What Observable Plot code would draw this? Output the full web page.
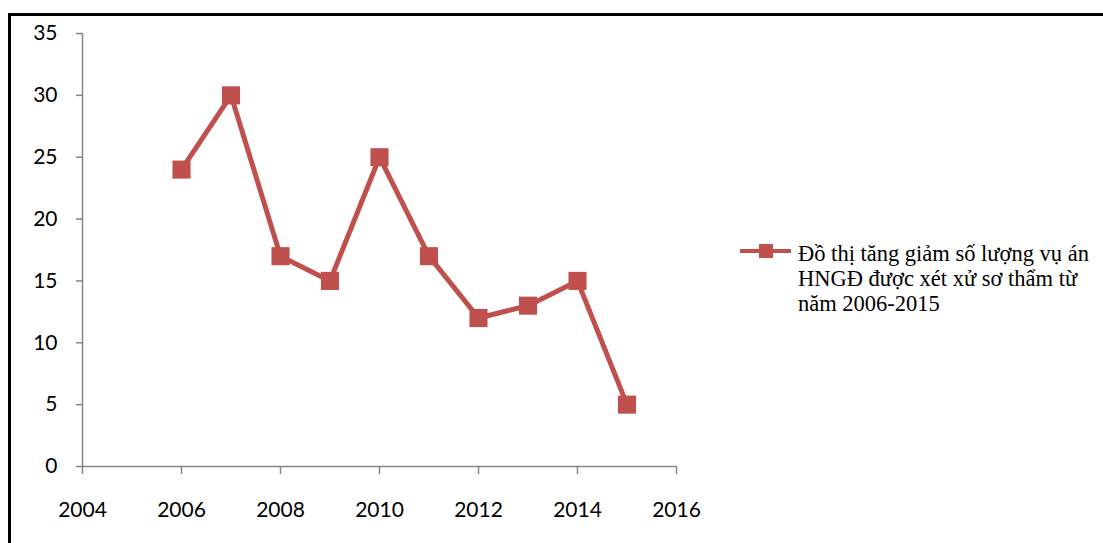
<!DOCTYPE html>
<html><head><meta charset="utf-8">
<script src="https://cdn.jsdelivr.net/npm/d3@7"></script>
<script src="https://cdn.jsdelivr.net/npm/@observablehq/plot@0.6"></script>
<style>
body{margin:0;background:#fff;}
#wrap{position:relative;width:1103px;height:543px;overflow:hidden;background:#fff;}
#wrap svg.plot{position:absolute;left:0;top:0;}
#frame{position:absolute;left:8px;top:13px;width:1200px;height:700px;border-left:3px solid #000;border-top:3px solid #000;box-sizing:border-box;}
#swatch{position:absolute;left:738px;top:240px;}
#legtext{position:absolute;left:798px;top:241px;font-family:"Liberation Serif","Times New Roman",serif;font-size:22.5px;line-height:25px;color:#000;white-space:nowrap;}
</style>
</head><body>
<div id="wrap">
  <div id="frame"></div>
</div>
<script>
const years = [2006, 2007, 2008, 2009, 2010, 2011, 2012, 2013, 2014, 2015];
const cases = [24, 30, 17, 15, 25, 17, 12, 13, 15, 5];
const xTicks = [2004, 2006, 2008, 2010, 2012, 2014, 2016];
const yTicks = [0, 5, 10, 15, 20, 25, 30, 35];
const legendLines = ["Đồ thị tăng giảm số lượng vụ án", "HNGĐ được xét xử sơ thẩm từ", "năm 2006-2015"];
const seriesColor = "#C0504D";

const data = years.map((y, i) => ({year: y, value: cases[i]}));

const chart = Plot.plot({
  width: 1103,
  height: 543,
  marginLeft: 82,
  marginRight: 427,
  marginTop: 33,
  marginBottom: 77,
  x: {domain: [2004, 2016]},
  y: {domain: [0, 35]},
  style: {fontFamily: "Lato, 'Open Sans', sans-serif", fontSize: "21px", color: "#000", background: "transparent", overflow: "visible"},
  marks: [
    Plot.ruleY([0], {stroke: "#868686", strokeWidth: 1.5}),
    Plot.ruleX([2004], {stroke: "#868686", strokeWidth: 1.5}),
    Plot.axisX({ticks: xTicks, tickSize: 8, tickPadding: 28, tickFormat: d => String(d), stroke: "#868686", fill: "#000", strokeWidth: 1.5, label: null}),
    Plot.axisY({ticks: yTicks, tickSize: 6, tickPadding: 19, stroke: "#868686", fill: "#000", strokeWidth: 1.5, label: null}),
    Plot.line(data, {x: "year", y: "value", stroke: seriesColor, strokeWidth: 5}),
    Plot.dot(data, {x: "year", y: "value", symbol: "square", r: 10.2, fill: seriesColor, stroke: "none"})
  ]
});
document.getElementById("wrap").appendChild(chart);

// legend
const sw = d3.select("#wrap").append("svg").attr("id", "swatch").attr("width", 60).attr("height", 24);
sw.append("line").attr("x1", 2).attr("x2", 53).attr("y1", 11).attr("y2", 11).attr("stroke", seriesColor).attr("stroke-width", 4);
sw.append("rect").attr("x", 21).attr("y", 4).attr("width", 14).attr("height", 14).attr("fill", seriesColor);
const lt = d3.select("#wrap").append("div").attr("id", "legtext");
legendLines.forEach(l => lt.append("div").text(l));
</script>
</body></html>
